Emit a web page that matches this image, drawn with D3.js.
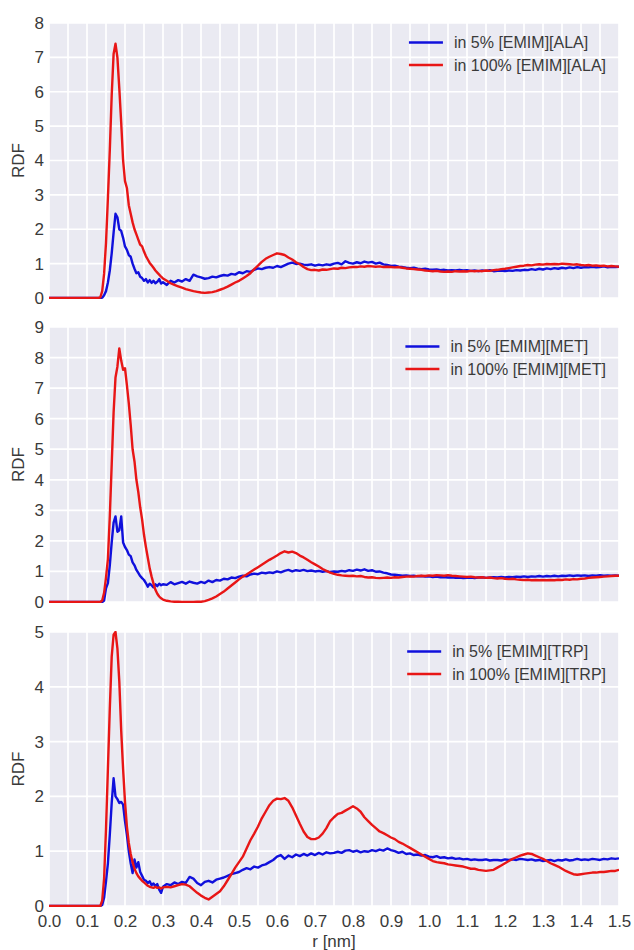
<!DOCTYPE html>
<html>
<head>
<meta charset="utf-8">
<script src="https://cdn.jsdelivr.net/npm/d3@7"></script>
<style>
  body { margin: 0; background: #fff; }
  svg { display: block; font-family: "Liberation Sans", Arial, sans-serif; }
</style>
</head>
<body>
<svg id="chart" width="634" height="950"></svg>
<script>
// r grid [nm]: fine steps across the first peak, 0.01 after that
const R_NM = [0,
  0.130,0.135,0.140,0.145,0.150,0.155,0.160,0.165,0.170,0.175,
  0.180,0.185,0.190,0.195,0.200,0.205,0.210,0.215,0.220,0.225,
  0.230,0.235,0.240,0.245,0.250,0.255,0.260,0.265,0.270,0.275,
  0.280,0.285,0.290,0.295,0.300,
  0.31,0.32,0.33,0.34,0.35,0.36,0.37,0.38,0.39,0.40,
  0.41,0.42,0.43,0.44,0.45,0.46,0.47,0.48,0.49,0.50,
  0.51,0.52,0.53,0.54,0.55,0.56,0.57,0.58,0.59,0.60,
  0.61,0.62,0.63,0.64,0.65,0.66,0.67,0.68,0.69,0.70,
  0.71,0.72,0.73,0.74,0.75,0.76,0.77,0.78,0.79,0.80,
  0.81,0.82,0.83,0.84,0.85,0.86,0.87,0.88,0.89,0.90,
  0.91,0.92,0.93,0.94,0.95,0.96,0.97,0.98,0.99,1.00,
  1.01,1.02,1.03,1.04,1.05,1.06,1.07,1.08,1.09,1.10,
  1.11,1.12,1.13,1.14,1.15,1.16,1.17,1.18,1.19,1.20,
  1.21,1.22,1.23,1.24,1.25,1.26,1.27,1.28,1.29,1.30,
  1.31,1.32,1.33,1.34,1.35,1.36,1.37,1.38,1.39,1.40,
  1.41,1.42,1.43,1.44,1.45,1.46,1.47,1.48,1.49,1.50];

const ALA_5 = [0,
  0,0,0.01,0.08,0.2,0.45,0.8,1.3,1.9,2.45,
  2.35,2.0,1.95,1.75,1.5,1.4,1.25,1.2,1.0,0.85,
  0.72,0.75,0.62,0.58,0.5,0.55,0.45,0.52,0.44,0.5,
  0.43,0.47,0.55,0.42,0.46,
  0.38,0.5,0.45,0.52,0.48,0.55,0.5,0.68,0.63,0.6,
  0.56,0.58,0.62,0.6,0.64,0.67,0.65,0.7,0.68,0.75,
  0.72,0.78,0.76,0.82,0.86,0.84,0.88,0.9,0.88,0.93,
  0.9,0.95,1.0,1.03,0.99,1.0,0.97,0.96,0.98,0.94,
  0.97,0.95,0.98,0.96,1.0,1.02,0.98,1.07,1.02,1.0,
  1.04,1.01,1.06,1.03,1.05,1.0,1.03,0.98,0.96,0.93,
  0.94,0.91,0.9,0.88,0.87,0.88,0.85,0.84,0.85,0.83,
  0.82,0.83,0.81,0.82,0.8,0.81,0.8,0.82,0.8,0.81,
  0.79,0.8,0.78,0.8,0.79,0.81,0.78,0.79,0.8,0.78,
  0.8,0.79,0.81,0.8,0.82,0.81,0.84,0.82,0.85,0.83,
  0.86,0.84,0.87,0.85,0.88,0.86,0.89,0.87,0.9,0.88,
  0.9,0.89,0.91,0.89,0.9,0.92,0.89,0.91,0.9,0.91];

const ALA_100 = [0,
  0,0.02,0.2,0.7,1.6,2.9,4.3,5.9,7.1,7.4,
  7.0,6.1,5.1,4.0,3.4,3.2,2.7,2.45,2.2,2.0,
  1.85,1.7,1.55,1.5,1.35,1.22,1.12,1.02,0.95,0.88,
  0.8,0.74,0.68,0.62,0.57,
  0.5,0.43,0.38,0.34,0.3,0.26,0.23,0.2,0.18,0.16,
  0.15,0.16,0.17,0.2,0.24,0.28,0.33,0.39,0.45,0.5,
  0.57,0.64,0.72,0.84,0.94,1.05,1.14,1.2,1.25,1.3,
  1.28,1.25,1.18,1.12,1.04,0.98,0.9,0.84,0.81,0.82,
  0.8,0.83,0.82,0.84,0.86,0.85,0.88,0.87,0.89,0.9,
  0.9,0.92,0.91,0.93,0.92,0.91,0.92,0.9,0.91,0.9,
  0.89,0.9,0.88,0.86,0.85,0.84,0.83,0.82,0.8,0.79,
  0.78,0.79,0.77,0.76,0.77,0.76,0.78,0.77,0.78,0.77,
  0.79,0.78,0.79,0.78,0.8,0.79,0.81,0.82,0.84,0.85,
  0.87,0.89,0.91,0.93,0.94,0.96,0.95,0.97,0.98,0.97,
  0.99,0.98,0.99,0.98,1.0,0.99,0.98,0.97,0.98,0.96,
  0.95,0.96,0.94,0.95,0.93,0.94,0.92,0.93,0.92,0.91];

const MET_5 = [0,
  0,0,0,0.05,0.45,0.62,1.2,1.95,2.6,2.8,
  2.3,2.35,2.8,1.95,1.8,1.7,1.55,1.5,1.3,1.2,
  1.05,0.95,0.85,0.78,0.72,0.62,0.5,0.6,0.55,0.48,
  0.58,0.52,0.6,0.55,0.58,
  0.56,0.65,0.58,0.62,0.66,0.6,0.67,0.63,0.6,0.66,
  0.62,0.7,0.65,0.72,0.7,0.76,0.74,0.8,0.78,0.83,
  0.86,0.84,0.9,0.93,0.91,0.96,0.94,0.97,0.95,1.0,
  0.97,1.02,1.05,1.0,1.04,1.02,1.05,1.01,1.03,1.0,
  1.02,0.99,1.01,0.98,1.0,0.99,1.02,1.0,1.04,1.02,
  1.06,1.03,1.07,1.02,1.04,0.99,1.0,0.96,0.94,0.9,
  0.89,0.88,0.86,0.87,0.85,0.86,0.84,0.85,0.83,0.84,
  0.82,0.83,0.81,0.82,0.8,0.81,0.79,0.8,0.78,0.79,
  0.8,0.78,0.8,0.81,0.79,0.8,0.81,0.8,0.82,0.8,
  0.82,0.81,0.83,0.82,0.84,0.82,0.84,0.83,0.85,0.83,
  0.85,0.84,0.86,0.84,0.86,0.85,0.87,0.85,0.87,0.86,
  0.87,0.85,0.87,0.86,0.88,0.86,0.87,0.86,0.87,0.86];

const MET_100 = [0,
  0,0,0.05,0.3,0.8,1.4,2.8,4.5,6.2,7.35,
  7.7,8.3,7.9,7.6,7.65,7.1,6.5,5.8,5.0,4.6,
  4.0,3.6,3.1,2.7,2.2,1.8,1.45,1.1,0.83,0.6,
  0.4,0.27,0.18,0.12,0.08,
  0.04,0.02,0.01,0.01,0,0,0,0,0.01,0.01,
  0.03,0.07,0.12,0.18,0.26,0.34,0.44,0.54,0.64,0.74,
  0.83,0.9,0.98,1.06,1.14,1.22,1.3,1.38,1.45,1.52,
  1.6,1.66,1.62,1.65,1.6,1.52,1.46,1.38,1.3,1.23,
  1.16,1.08,1.02,0.96,0.92,0.89,0.87,0.86,0.85,0.86,
  0.84,0.85,0.82,0.8,0.81,0.79,0.78,0.79,0.8,0.79,
  0.81,0.8,0.82,0.83,0.84,0.83,0.85,0.86,0.85,0.87,
  0.86,0.88,0.87,0.86,0.88,0.86,0.85,0.84,0.83,0.82,
  0.83,0.81,0.8,0.81,0.79,0.8,0.78,0.77,0.78,0.76,
  0.75,0.76,0.74,0.73,0.72,0.73,0.71,0.72,0.71,0.72,
  0.71,0.72,0.71,0.73,0.72,0.74,0.73,0.75,0.74,0.76,
  0.77,0.79,0.8,0.81,0.82,0.83,0.84,0.85,0.86,0.86];

const TRP_5 = [0,
  0,0,0.02,0.15,0.45,0.78,1.3,1.88,2.33,2.0,
  1.95,1.88,1.9,1.85,1.55,1.3,1.0,0.78,0.6,0.85,
  0.7,0.8,0.62,0.55,0.48,0.46,0.42,0.45,0.38,0.41,
  0.36,0.4,0.3,0.24,0.35,
  0.4,0.38,0.43,0.4,0.44,0.42,0.53,0.5,0.42,0.38,
  0.44,0.46,0.43,0.48,0.5,0.52,0.55,0.58,0.6,0.62,
  0.66,0.69,0.67,0.72,0.7,0.74,0.76,0.8,0.84,0.9,
  0.93,0.86,0.92,0.89,0.94,0.91,0.95,0.92,0.96,0.93,
  0.97,0.94,0.98,0.96,0.97,0.99,0.97,1.01,1.02,0.99,
  1.01,0.98,1.0,0.99,1.02,1.0,1.03,1.01,1.05,1.02,
  1.0,0.97,0.99,0.95,0.96,0.93,0.94,0.92,0.93,0.9,
  0.89,0.91,0.88,0.89,0.87,0.88,0.86,0.87,0.85,0.86,
  0.84,0.85,0.84,0.84,0.85,0.83,0.84,0.84,0.83,0.85,
  0.84,0.85,0.84,0.86,0.85,0.84,0.85,0.83,0.84,0.82,
  0.83,0.84,0.82,0.84,0.83,0.85,0.83,0.84,0.86,0.84,
  0.85,0.84,0.86,0.85,0.84,0.86,0.85,0.87,0.86,0.87];

const TRP_100 = [0,
  0,0,0.1,0.5,1.4,2.5,3.6,4.55,4.95,5.0,
  4.7,4.1,3.2,2.5,1.9,1.45,1.15,0.95,0.8,0.68,
  0.6,0.54,0.5,0.46,0.43,0.4,0.37,0.35,0.34,0.33,
  0.35,0.33,0.34,0.32,0.34,
  0.35,0.34,0.36,0.38,0.4,0.39,0.36,0.3,0.24,0.19,
  0.15,0.12,0.17,0.22,0.27,0.36,0.47,0.58,0.7,0.8,
  0.9,1.05,1.2,1.32,1.45,1.6,1.72,1.84,1.92,1.96,
  1.95,1.97,1.92,1.8,1.65,1.5,1.36,1.26,1.22,1.22,
  1.25,1.32,1.42,1.55,1.62,1.68,1.7,1.74,1.78,1.82,
  1.78,1.72,1.62,1.55,1.48,1.42,1.36,1.33,1.29,1.25,
  1.22,1.17,1.14,1.1,1.06,1.02,0.98,0.94,0.9,0.86,
  0.82,0.8,0.79,0.78,0.76,0.75,0.74,0.73,0.72,0.7,
  0.68,0.68,0.66,0.65,0.64,0.65,0.66,0.7,0.74,0.78,
  0.82,0.86,0.89,0.92,0.94,0.96,0.95,0.92,0.89,0.86,
  0.82,0.78,0.75,0.72,0.68,0.64,0.61,0.58,0.57,0.58,
  0.59,0.6,0.61,0.61,0.62,0.62,0.63,0.64,0.64,0.66];

const X_TICKS = [0.0,0.1,0.2,0.3,0.4,0.5,0.6,0.7,0.8,0.9,1.0,1.1,1.2,1.3,1.4,1.5];
const X_GRID = [0.05,0.15,0.25,0.35,0.45,0.55,0.65,0.75,0.85,0.95,1.05,1.15,1.25,1.35,1.45];
const Y_MAX = [8, 9, 5];
const IL_NAMES = ["[EMIM][ALA]", "[EMIM][MET]", "[EMIM][TRP]"];
const SERIES_5 = [ALA_5, MET_5, TRP_5];
const SERIES_100 = [ALA_100, MET_100, TRP_100];

const BLUE = "#1010dc";
const RED = "#e81616";
const TEXT = "#3a3a3a";

const svg = d3.select("#chart");
const left = 49, right = 619;
const panelTops = [23, 327, 632];
const panelBottoms = [298, 602, 906];

const x = d3.scaleLinear().domain([0, 1.5]).range([left, right]);

Y_MAX.forEach((ymax, i) => {
  const top = panelTops[i], bottom = panelBottoms[i];
  const y = d3.scaleLinear().domain([0, ymax]).range([bottom, top]);
  const g = svg.append("g");

  g.append("rect")
    .attr("x", left).attr("y", top)
    .attr("width", right - left).attr("height", bottom - top)
    .attr("fill", "#eaeaf2");

  g.append("clipPath").attr("id", "clip" + i)
    .append("rect")
    .attr("x", left).attr("y", top - 1)
    .attr("width", right - left).attr("height", bottom - top + 2);

  // grid
  const grid = g.append("g").attr("stroke", "#fff").attr("stroke-width", 1.7);
  grid.selectAll(".vx").data(X_TICKS.concat(X_GRID)).join("line")
    .attr("x1", d => x(d)).attr("x2", d => x(d))
    .attr("y1", top).attr("y2", bottom);
  grid.selectAll(".hy").data(d3.range(0, ymax + 1)).join("line")
    .attr("x1", left).attr("x2", right)
    .attr("y1", d => y(d)).attr("y2", d => y(d));

  // y tick labels
  const yAxis = d3.axisLeft(y).tickValues(d3.range(0, ymax + 1)).tickSize(0).tickPadding(5).tickFormat(d3.format("d"));
  const ya = g.append("g").attr("transform", `translate(${left},0)`).call(yAxis);
  ya.select(".domain").remove();
  ya.selectAll("text").attr("font-size", 17).attr("fill", TEXT)
    .attr("font-family", "'Liberation Sans', Arial, sans-serif");

  g.append("text")
    .attr("transform", `translate(18,${(top + bottom) / 2}) rotate(-90)`)
    .attr("text-anchor", "middle").attr("dominant-baseline", "central")
    .attr("font-size", 17).attr("fill", TEXT).text("RDF");

  const line = d3.line()
    .defined((d, k) => d !== undefined && k < R_NM.length)
    .x((d, k) => x(R_NM[k])).y(d => y(d));

  const lines = g.append("g").attr("clip-path", `url(#clip${i})`)
    .attr("fill", "none").attr("stroke-width", 2.4).attr("stroke-linejoin", "round");
  lines.append("path").attr("d", line(SERIES_5[i])).attr("stroke", BLUE);
  lines.append("path").attr("d", line(SERIES_100[i])).attr("stroke", RED);

  // legend, upper right
  const labels = ["in 5% " + IL_NAMES[i], "in 100% " + IL_NAMES[i]];
  const colors = [BLUE, RED];
  const leg = g.append("g");
  const texts = labels.map((t, k) => leg.append("text")
    .attr("y", top + 19.5 + k * 22.5)
    .attr("dominant-baseline", "central")
    .attr("font-size", 16).attr("fill", TEXT).text(t));
  const maxW = d3.max(texts, t => t.node().getComputedTextLength());
  const tx = 606 - maxW;
  texts.forEach((t, k) => {
    t.attr("x", tx);
    leg.append("line")
      .attr("x1", tx - 45).attr("x2", tx - 11)
      .attr("y1", top + 19.5 + k * 22.5).attr("y2", top + 19.5 + k * 22.5)
      .attr("stroke", colors[k]).attr("stroke-width", 2.6);
  });
});

// x axis at the bottom panel
const xAxis = d3.axisBottom(x).tickValues(X_TICKS).tickSize(0).tickPadding(9).tickFormat(d3.format(".1f"));
const xa = svg.append("g").attr("transform", `translate(0,${panelBottoms[2]})`).call(xAxis);
xa.select(".domain").remove();
xa.selectAll("text").attr("font-size", 17).attr("fill", TEXT)
  .attr("font-family", "'Liberation Sans', Arial, sans-serif");

svg.append("text")
  .attr("x", (left + right) / 2).attr("y", 947)
  .attr("text-anchor", "middle")
  .attr("font-size", 17).attr("fill", TEXT).text("r [nm]");
</script>
</body>
</html>
